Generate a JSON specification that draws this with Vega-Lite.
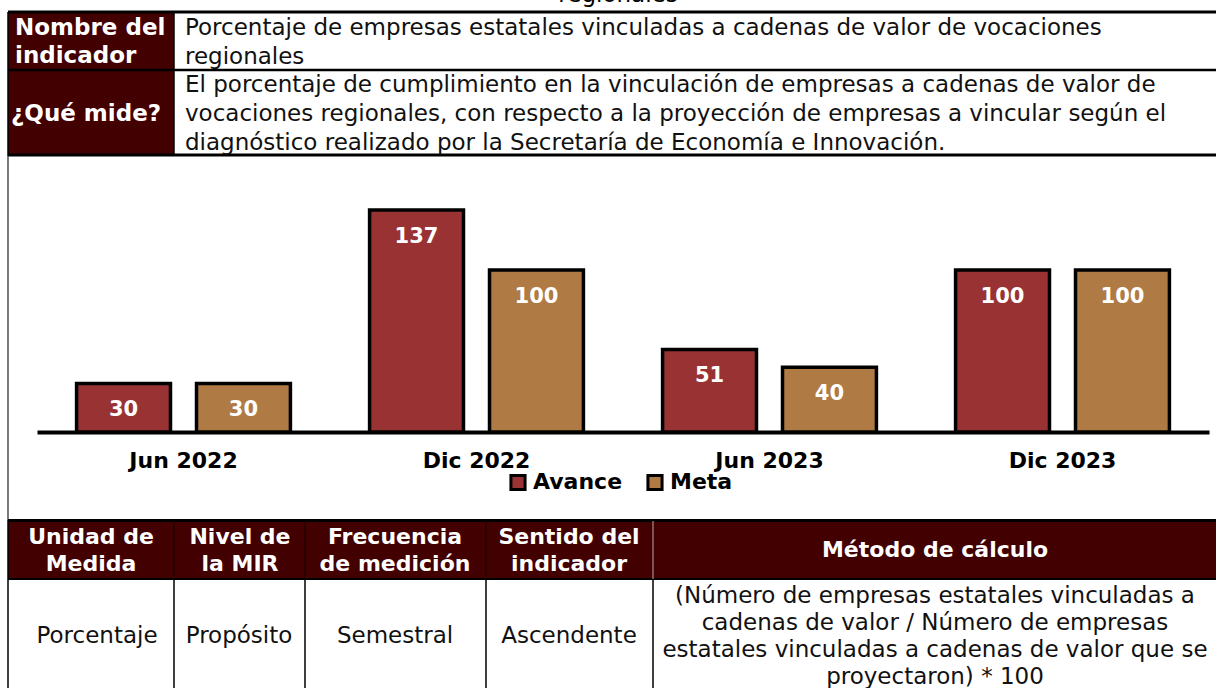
{
  "$schema": "https://vega.github.io/schema/vega-lite/v6.json",
  "padding": 0,
  "spacing": 0,
  "bounds": "flush",
  "background": "white",
  "config": {"view": {"stroke": null}, "font": "DejaVu Sans", "concat": {"spacing": 0}},
  "datasets": {
    "topCells": [
      {"x0": 8, "x1": 174, "y0": 12, "y1": 70},
      {"x0": 8, "x1": 174, "y0": 70, "y1": 156}
    ],
    "topLines": [
      {"kind": "thick", "x0": 8, "x1": 1216, "y0": 12, "y1": 12},
      {"kind": "mid", "x0": 8, "x1": 1216, "y0": 70, "y1": 70},
      {"kind": "thick", "x0": 8, "x1": 1216, "y0": 155, "y1": 155},
      {"kind": "thin", "x0": 174, "x1": 174, "y0": 12, "y1": 156},
      {"kind": "thin", "x0": 8, "x1": 8, "y0": 12, "y1": 156}
    ],
    "topText": [
      {"kind": "head", "t": "Nombre del", "x": 15, "y": 28},
      {"kind": "head", "t": "indicador", "x": 15, "y": 56},
      {"kind": "head", "t": "¿Qué mide?", "x": 11, "y": 114},
      {"kind": "body", "t": "Porcentaje de empresas estatales vinculadas a cadenas de valor de vocaciones", "x": 185, "y": 28},
      {"kind": "body", "t": "regionales", "x": 185, "y": 57},
      {"kind": "body", "t": "El porcentaje de cumplimiento en la vinculación de empresas a cadenas de valor de", "x": 185, "y": 85},
      {"kind": "body", "t": "vocaciones regionales, con respecto a la proyección de empresas a vincular según el", "x": 185, "y": 114},
      {"kind": "body", "t": "diagnóstico realizado por la Secretaría de Economía e Innovación.", "x": 185, "y": 143}
    ],
    "bars": [
      {"periodo": "Jun 2022", "serie": "Avance", "valor": 30},
      {"periodo": "Jun 2022", "serie": "Meta", "valor": 30},
      {"periodo": "Dic 2022", "serie": "Avance", "valor": 137},
      {"periodo": "Dic 2022", "serie": "Meta", "valor": 100},
      {"periodo": "Jun 2023", "serie": "Avance", "valor": 51},
      {"periodo": "Jun 2023", "serie": "Meta", "valor": 40},
      {"periodo": "Dic 2023", "serie": "Avance", "valor": 100},
      {"periodo": "Dic 2023", "serie": "Meta", "valor": 100}
    ],
    "botCells": [
      {"x0": 8, "x1": 1216, "y0": 1, "y1": 59}
    ],
    "botLines": [
      {"kind": "thick", "x0": 8, "x1": 1216, "y0": 0.5, "y1": 0.5},
      {"kind": "mid", "x0": 8, "x1": 1216, "y0": 59, "y1": 59},
      {"kind": "headdiv", "x0": 174, "x1": 174, "y0": 1, "y1": 59},
      {"kind": "headdiv", "x0": 305, "x1": 305, "y0": 1, "y1": 59},
      {"kind": "headdiv", "x0": 486, "x1": 486, "y0": 1, "y1": 59},
      {"kind": "headlight", "x0": 653, "x1": 653, "y0": 1, "y1": 59},
      {"kind": "thin", "x0": 8, "x1": 8, "y0": 0, "y1": 180},
      {"kind": "thin", "x0": 174, "x1": 174, "y0": 59, "y1": 180},
      {"kind": "thin", "x0": 305, "x1": 305, "y0": 59, "y1": 180},
      {"kind": "thin", "x0": 486, "x1": 486, "y0": 59, "y1": 180},
      {"kind": "thin", "x0": 653, "x1": 653, "y0": 59, "y1": 180}
    ],
    "botText": [
      {"kind": "head", "t": "Unidad de", "x": 91, "y": 17},
      {"kind": "head", "t": "Medida", "x": 91, "y": 44},
      {"kind": "head", "t": "Nivel de", "x": 240, "y": 17},
      {"kind": "head", "t": "la MIR", "x": 240, "y": 44},
      {"kind": "head", "t": "Frecuencia", "x": 395, "y": 17},
      {"kind": "head", "t": "de medición", "x": 395, "y": 44},
      {"kind": "head", "t": "Sentido del", "x": 569, "y": 17},
      {"kind": "head", "t": "indicador", "x": 569, "y": 44},
      {"kind": "head", "t": "Método de cálculo", "x": 935, "y": 30},
      {"kind": "body", "t": "Porcentaje", "x": 97, "y": 116},
      {"kind": "body", "t": "Propósito", "x": 239, "y": 116},
      {"kind": "body", "t": "Semestral", "x": 395, "y": 116},
      {"kind": "body", "t": "Ascendente", "x": 569, "y": 116},
      {"kind": "body", "t": "(Número de empresas estatales vinculadas a", "x": 935, "y": 76},
      {"kind": "body", "t": "cadenas de valor / Número de empresas", "x": 935, "y": 103},
      {"kind": "body", "t": "estatales vinculadas a cadenas de valor que se", "x": 935, "y": 130},
      {"kind": "body", "t": "proyectaron) * 100", "x": 935, "y": 157}
    ]
  },
  "vconcat": [
    {
      "width": 1216,
      "height": 156,
      "encoding": {
        "x": {"field": "x0", "type": "quantitative", "scale": {"domain": [0, 1216], "range": [0, 1216], "nice": false, "zero": false}, "axis": null},
        "y": {"field": "y0", "type": "quantitative", "scale": {"domain": [0, 156], "range": [0, 156], "nice": false, "zero": false}, "axis": null}
      },
      "layer": [
        {"data": {"name": "topCells"}, "mark": {"type": "rect", "fill": "#420000"}, "encoding": {"x2": {"field": "x1"}, "y2": {"field": "y1"}}},
        {"data": {"name": "topLines"}, "transform": [{"filter": "datum.kind === 'thick'"}], "mark": {"type": "rule", "color": "black", "strokeWidth": 3}, "encoding": {"x2": {"field": "x1"}, "y2": {"field": "y1"}}},
        {"data": {"name": "topLines"}, "transform": [{"filter": "datum.kind === 'mid'"}], "mark": {"type": "rule", "color": "black", "strokeWidth": 2.5}, "encoding": {"x2": {"field": "x1"}, "y2": {"field": "y1"}}},
        {"data": {"name": "topLines"}, "transform": [{"filter": "datum.kind === 'thin'"}], "mark": {"type": "rule", "color": "black", "strokeWidth": 1.5}, "encoding": {"x2": {"field": "x1"}, "y2": {"field": "y1"}}},
        {"data": {"values": [{"t": "regionales", "x0": 618, "y0": 2}]}, "mark": {"type": "text", "clip": true, "fontSize": 23, "align": "center", "baseline": "alphabetic", "color": "black"}, "encoding": {"text": {"field": "t"}}},
        {"data": {"name": "topText"}, "transform": [{"filter": "datum.kind === 'head'"}], "mark": {"type": "text", "fontSize": 23, "fontWeight": "bold", "align": "left", "baseline": "middle", "color": "white"}, "encoding": {"x": {"field": "x"}, "y": {"field": "y"}, "text": {"field": "t"}}},
        {"data": {"name": "topText"}, "transform": [{"filter": "datum.kind === 'body'"}], "mark": {"type": "text", "fontSize": 23, "align": "left", "baseline": "middle", "color": "#111111"}, "encoding": {"x": {"field": "x"}, "y": {"field": "y"}, "text": {"field": "t"}}}
      ]
    },
    {
      "width": 1216,
      "height": 364,
      "resolve": {"scale": {"x": "independent"}},
      "layer": [
        {
          "data": {"values": [{"borde": "izquierdo", "pos": 8}]},
          "mark": {"type": "rule", "color": "#222222", "strokeWidth": 1.2},
          "encoding": {"x": {"field": "pos", "type": "quantitative", "scale": {"domain": [0, 1216], "range": [0, 1216], "nice": false, "zero": false}, "axis": null}}
        },
        {
          "data": {"name": "bars"},
          "encoding": {
            "x": {"field": "periodo", "type": "nominal", "sort": ["Jun 2022", "Dic 2022", "Jun 2023", "Dic 2023"], "scale": {"range": [37, 1209], "paddingInner": 0, "paddingOuter": 0},
              "axis": {"title": null, "orient": "bottom", "offset": -88, "domainColor": "black", "domainWidth": 4, "ticks": false, "grid": false, "labelAngle": 0, "labelFont": "DejaVu Sans", "labelFontSize": 22, "labelFontWeight": "bold", "labelColor": "black", "labelPadding": 18}},
            "xOffset": {"field": "serie", "type": "nominal", "sort": ["Avance", "Meta"], "scale": {"paddingInner": 0.217, "paddingOuter": 0.33}},
            "y": {"field": "valor", "type": "quantitative", "scale": {"domain": [0, 170.4], "range": [276, 0], "nice": false}, "axis": null}
          },
          "layer": [
            {
              "mark": {"type": "bar", "stroke": "black", "strokeWidth": 3.5},
              "encoding": {
                "color": {"field": "serie", "type": "nominal", "sort": ["Avance", "Meta"], "scale": {"range": ["#993233", "#b07a45"]},
                  "legend": {"title": null, "orient": "none", "legendX": 507, "legendY": 471, "direction": "horizontal", "symbolType": "square", "symbolSize": 200, "symbolStrokeColor": "black", "symbolStrokeWidth": 3, "labelFont": "DejaVu Sans", "labelFontSize": 22, "labelFontWeight": "bold", "labelColor": "black", "columnPadding": 18, "labelOffset": 4, "padding": 0}}
              }
            },
            {
              "mark": {"type": "text", "color": "white", "fontSize": 21, "fontWeight": "bold", "baseline": "middle", "dy": 27},
              "encoding": {"text": {"field": "valor", "type": "quantitative"}}
            }
          ]
        }
      ]
    },
    {
      "width": 1216,
      "height": 180,
      "encoding": {
        "x": {"field": "x0", "type": "quantitative", "scale": {"domain": [0, 1216], "range": [0, 1216], "nice": false, "zero": false}, "axis": null},
        "y": {"field": "y0", "type": "quantitative", "scale": {"domain": [0, 180], "range": [0, 180], "nice": false, "zero": false}, "axis": null}
      },
      "layer": [
        {"data": {"name": "botCells"}, "mark": {"type": "rect", "fill": "#420000"}, "encoding": {"x2": {"field": "x1"}, "y2": {"field": "y1"}}},
        {"data": {"name": "botLines"}, "transform": [{"filter": "datum.kind === 'thick'"}], "mark": {"type": "rule", "color": "black", "strokeWidth": 3}, "encoding": {"x2": {"field": "x1"}, "y2": {"field": "y1"}}},
        {"data": {"name": "botLines"}, "transform": [{"filter": "datum.kind === 'mid'"}], "mark": {"type": "rule", "color": "black", "strokeWidth": 2}, "encoding": {"x2": {"field": "x1"}, "y2": {"field": "y1"}}},
        {"data": {"name": "botLines"}, "transform": [{"filter": "datum.kind === 'headdiv'"}], "mark": {"type": "rule", "color": "#1a0000", "strokeWidth": 1.2}, "encoding": {"x2": {"field": "x1"}, "y2": {"field": "y1"}}},
        {"data": {"name": "botLines"}, "transform": [{"filter": "datum.kind === 'headlight'"}], "mark": {"type": "rule", "color": "#a09090", "strokeWidth": 1.2}, "encoding": {"x2": {"field": "x1"}, "y2": {"field": "y1"}}},
        {"data": {"name": "botLines"}, "transform": [{"filter": "datum.kind === 'thin'"}], "mark": {"type": "rule", "color": "black", "strokeWidth": 1.5}, "encoding": {"x2": {"field": "x1"}, "y2": {"field": "y1"}}},
        {"data": {"name": "botText"}, "transform": [{"filter": "datum.kind === 'head'"}], "mark": {"type": "text", "fontSize": 22, "fontWeight": "bold", "align": "center", "baseline": "middle", "color": "white"}, "encoding": {"x": {"field": "x"}, "y": {"field": "y"}, "text": {"field": "t"}}},
        {"data": {"name": "botText"}, "transform": [{"filter": "datum.kind === 'body'"}], "mark": {"type": "text", "fontSize": 23, "align": "center", "baseline": "middle", "color": "#111111"}, "encoding": {"x": {"field": "x"}, "y": {"field": "y"}, "text": {"field": "t"}}}
      ]
    }
  ]
}
